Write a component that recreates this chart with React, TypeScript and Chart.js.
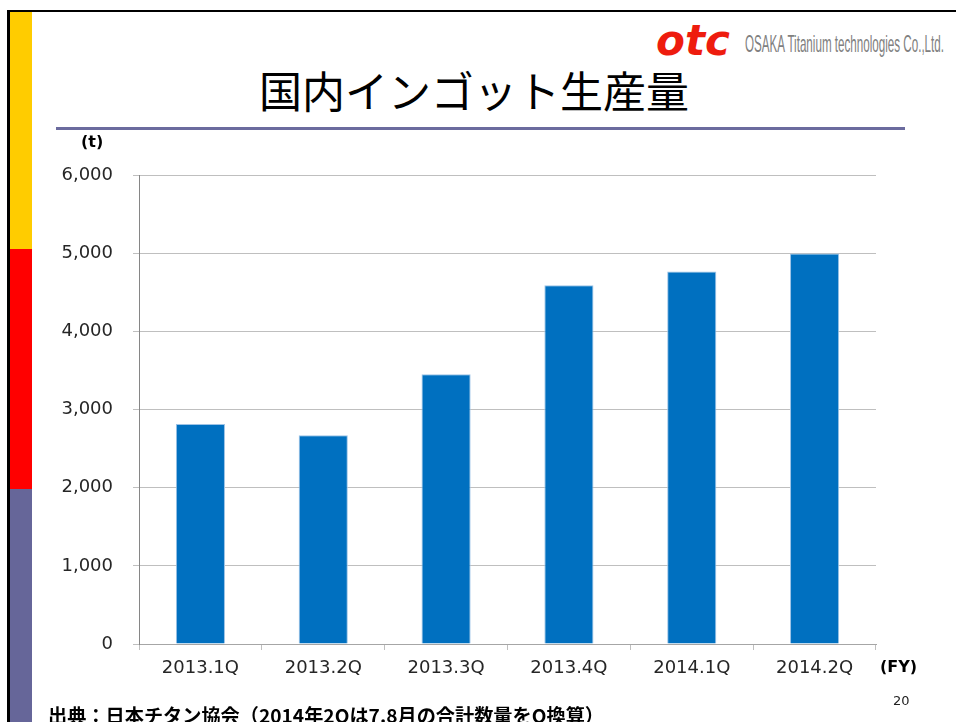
import React, { useEffect, useRef } from "react";
import { Chart, registerables } from "chart.js";

Chart.register(...registerables);

const categories = ["2013.1Q", "2013.2Q", "2013.3Q", "2013.4Q", "2014.1Q", "2014.2Q"];
const production = [2815, 2670, 3450, 4590, 4765, 4995];
const yTicks = [0, 1000, 2000, 3000, 4000, 5000, 6000];

const titleText = "国内インゴット生産量";
const unitY = "(t)";
const unitX = "(FY)";
const sourceText = "出典：日本チタン協会（2014年2Qは7.8月の合計数量をQ換算）";
const pageNo = "20";
const companyName = "OSAKA Titanium technologies Co.,Ltd.";

export default function App() {
  const canvasRef = useRef<HTMLCanvasElement | null>(null);

  useEffect(() => {
    const canvas = canvasRef.current;
    if (!canvas) return;
    const chart = new Chart(canvas, {
      type: "bar",
      data: {
        labels: categories,
        datasets: [
          {
            data: production,
            backgroundColor: "#0070C0",
            borderColor: "#9DC3E6",
            borderWidth: 1,
            categoryPercentage: 1,
            barPercentage: 0.4,
          },
        ],
      },
      options: {
        responsive: false,
        animation: false,
        devicePixelRatio: 1,
        layout: { padding: { left: 60, right: 80, top: 175, bottom: 38 } },
        plugins: { legend: { display: false }, tooltip: { enabled: false }, title: { display: false } },
        scales: {
          x: {
            offset: true,
            grid: {
              display: true,
              drawOnChartArea: false,
              drawTicks: true,
              tickLength: 6,
              offset: true,
              color: "#BFBFBF",
            },
            border: { display: true, color: "#A6A6A6", width: 1 },
            ticks: {
              color: "#262626",
              padding: 8,
              font: { family: "'DejaVu Sans', Verdana, sans-serif", size: 18 },
              maxRotation: 0,
            },
            afterFit: (s: any) => {
              s.height = 40;
            },
          },
          y: {
            min: 0,
            max: 6000,
            afterBuildTicks: (s: any) => {
              s.ticks = yTicks.map((v) => ({ value: v }));
            },
            grid: { color: "#BFBFBF", tickLength: 6, drawTicks: true },
            border: { display: true, color: "#868686", width: 1 },
            ticks: {
              color: "#262626",
              padding: 20,
              font: { family: "'DejaVu Sans', Verdana, sans-serif", size: 18 },
              callback: (v: any) => Number(v).toLocaleString("en-US"),
            },
            afterFit: (s: any) => {
              s.width = 79;
            },
          },
        },
      },
    });
    return () => chart.destroy();
  }, []);

  const abs = (o: React.CSSProperties): React.CSSProperties => ({ position: "absolute", ...o });

  return (
    <div style={abs({ left: 0, top: 0, width: 956, height: 722, background: "#fff", overflow: "hidden" })}>
      {/* frame */}
      <div style={abs({ left: 7, top: 10, width: 960, height: 730, borderTop: "2px solid #000", borderLeft: "3px solid #000" })} />
      <div style={abs({ left: 10, top: 12, width: 22, height: 237, background: "#FFCC00" })} />
      <div style={abs({ left: 10, top: 249, width: 22, height: 240, background: "#FF0000" })} />
      <div style={abs({ left: 10, top: 489, width: 22, height: 240, background: "#666699" })} />

      {/* logo */}
      <svg style={abs({ left: 640, top: 14, width: 316, height: 56 })} width={316} height={56}>
        <text x={16} y={41} fill="#EE1C0E" fontFamily="'DejaVu Sans', sans-serif" fontWeight="bold" fontStyle="italic" fontSize={42} textLength={74} lengthAdjust="spacingAndGlyphs">otc</text>
        <text x={105} y={38} fill="#808080" fontFamily="'Liberation Sans', sans-serif" fontSize={24} textLength={199} lengthAdjust="spacingAndGlyphs">{companyName}</text>
      </svg>

      {/* title */}
      <div style={abs({ left: 259, top: 66, fontFamily: "'Noto Sans CJK JP', sans-serif", fontSize: 43, lineHeight: "46px", color: "#000", whiteSpace: "nowrap" })}>{titleText}</div>
      <div style={abs({ left: 56, top: 127, width: 849, height: 3, background: "#6B6B9E" })} />

      <canvas ref={canvasRef} width={956} height={722} style={abs({ left: 0, top: 0, width: 956, height: 722 })} />

      <div style={abs({ left: 81, top: 132, fontFamily: "'DejaVu Sans', Verdana, sans-serif", fontWeight: "bold", fontSize: 16, lineHeight: "20px", color: "#000" })}>{unitY}</div>
      <div style={abs({ left: 880, top: 657, fontFamily: "'DejaVu Sans', Verdana, sans-serif", fontWeight: "bold", fontSize: 16, lineHeight: "20px", color: "#000" })}>{unitX}</div>
      <div style={abs({ left: 893, top: 693, fontFamily: "'DejaVu Sans', Verdana, sans-serif", fontSize: 13, lineHeight: "16px", color: "#222" })}>{pageNo}</div>

      <svg style={abs({ left: 0, top: 690, width: 700, height: 40 })} width={700} height={40}>
        <text x={48} y={33} fill="#000" fontFamily="'Noto Sans CJK JP', sans-serif" fontWeight="bold" fontSize={19} textLength={556} lengthAdjust="spacingAndGlyphs">{sourceText}</text>
      </svg>
    </div>
  );
}
